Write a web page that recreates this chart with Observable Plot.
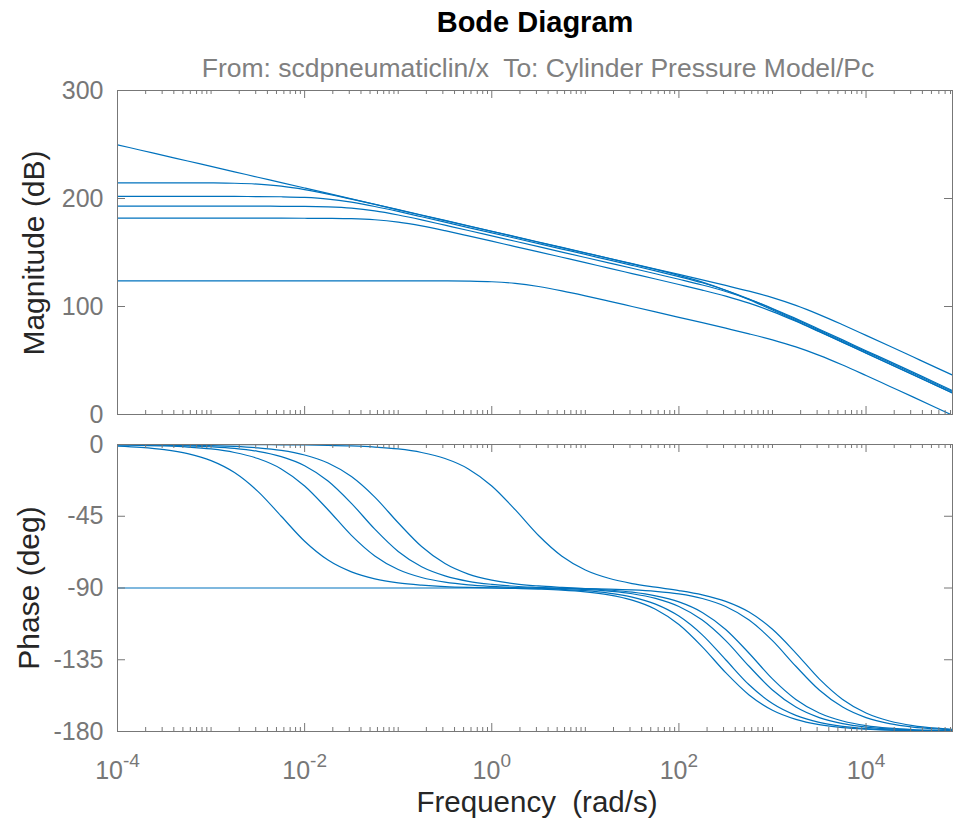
<!DOCTYPE html>
<html>
<head>
<meta charset="utf-8">
<script src="https://cdn.jsdelivr.net/npm/d3@7"></script>
<script src="https://cdn.jsdelivr.net/npm/@observablehq/plot@0.6"></script>
<style>
  body { margin: 0; background: #fff; }
  #chart { position: relative; width: 953px; height: 822px; font-family: "Liberation Sans", Arial, Helvetica, sans-serif; }
  .lbl { position: absolute; white-space: pre; line-height: 1; transform: translate(-50%, -50%); }
  .rot { transform: translate(-50%, -50%) rotate(-90deg); }
  #chart svg { position: absolute; left: 0; }
</style>
</head>
<body>
<div id="chart"></div>
<script>
// ---- data ----
// frequency grid, as log10(rad/s)
const freqExp = [-4,-3.75,-3.5,-3.25,-3,-2.75,-2.5,-2.25,-2,-1.75,-1.5,-1.25,-1,-0.75,-0.5,-0.25,0,0.25,0.5,0.75,1,1.25,1.5,1.75,2,2.25,2.5,2.75,3,3.25,3.5,3.75,4,4.25,4.5,4.75,4.924];

// magnitude (dB), one array per response
const magA = [249.7,244.7,239.7,234.7,229.7,224.7,219.7,214.7,209.7,204.7,199.7,194.7,189.7,184.7,179.7,174.7,169.7,164.7,159.7,154.7,149.7,144.7,139.7,134.7,129.7,124.6,119.5,114.2,108.2,101.0,92.5,83.1,73.3,63.4,53.4,43.4,36.5];
const magB = [214.5,214.5,214.5,214.5,214.4,214.1,213.3,211.5,208.3,204.1,199.4,194.5,189.5,184.5,179.5,174.5,169.5,164.5,159.5,154.5,149.5,144.5,139.4,134.3,128.8,122.6,115.1,106.3,96.8,86.9,77.0,67.0,57.0,47.0,37.0,27.0,20.0];
const magC = [201.9,201.9,201.9,201.9,201.9,201.9,201.8,201.6,201.0,199.5,196.6,192.6,188.0,183.1,178.1,173.1,168.2,163.2,158.2,153.2,148.2,143.1,138.1,133.0,127.7,122.0,115.1,107.0,97.7,88.0,78.1,68.1,58.2,48.2,38.2,28.2,21.2];
const magD = [192.9,192.9,192.9,192.9,192.9,192.9,192.9,192.8,192.7,192.2,191.0,188.5,184.7,180.2,175.3,170.4,165.4,160.4,155.4,150.4,145.4,140.4,135.4,130.3,125.2,119.9,113.9,106.7,98.2,88.8,79.0,69.1,59.1,49.2,39.2,29.2,22.2];
const magE = [181.8,181.8,181.8,181.8,181.8,181.8,181.8,181.8,181.7,181.6,181.3,180.3,178.1,174.6,170.2,165.4,160.5,155.5,150.6,145.6,140.6,135.5,130.5,125.5,120.4,115.2,109.6,103.1,95.3,86.3,76.6,66.7,56.8,46.8,36.8,26.8,19.8];
const magF = [123.8,123.8,123.8,123.8,123.8,123.8,123.8,123.8,123.8,123.8,123.8,123.8,123.8,123.8,123.7,123.5,122.9,121.4,118.5,114.5,109.9,105.0,100.0,95.0,90.0,85.0,79.9,74.7,69.1,62.6,54.8,45.8,36.1,26.2,16.3,6.3,-0.7];

// phase (deg), one array per response
const phaseA = [-90,-90,-90,-90,-90,-90,-90,-90,-90,-90,-90,-90,-90,-90,-90,-90,-90,-90.1,-90.1,-90.2,-90.4,-90.7,-91.2,-92.1,-93.7,-96.6,-101.6,-110.1,-123.0,-139.1,-154.0,-164.7,-171.3,-175.1,-177.2,-178.4,-179.0];
const phaseB = [-1.0,-1.8,-3.2,-5.7,-10.1,-17.6,-29.4,-45.0,-60.7,-72.5,-79.9,-84.3,-86.8,-88.2,-89.1,-89.6,-89.9,-90.3,-90.7,-91.3,-92.4,-94.3,-97.6,-103.3,-112.9,-126.9,-143.1,-157.1,-166.7,-172.4,-175.7,-177.6,-178.6,-179.2,-179.6,-179.8,-179.8];
const phaseC = [-0.3,-0.5,-0.9,-1.6,-2.8,-5.0,-8.8,-15.3,-26.0,-40.9,-57.0,-69.9,-78.4,-83.4,-86.3,-88.0,-89.0,-89.7,-90.2,-90.8,-91.7,-93.2,-95.7,-100.1,-107.6,-119.4,-135.0,-150.7,-162.5,-169.9,-174.3,-176.8,-178.2,-179.0,-179.4,-179.7,-179.8];
const phaseD = [-0.1,-0.2,-0.4,-0.8,-1.4,-2.4,-4.3,-7.6,-13.3,-22.9,-36.9,-53.1,-67.1,-76.7,-82.4,-85.8,-87.7,-88.9,-89.6,-90.2,-90.9,-92.0,-93.6,-96.5,-101.6,-110.1,-123.0,-139.1,-154.0,-164.7,-171.3,-175.1,-177.2,-178.4,-179.1,-179.5,-179.7];
const phaseE = [-0.1,-0.1,-0.2,-0.4,-0.7,-1.2,-2.1,-3.7,-6.6,-11.6,-20.1,-33.0,-49.1,-64.0,-74.7,-81.3,-85.1,-87.4,-88.7,-89.6,-90.4,-91.3,-92.6,-94.9,-98.7,-105.3,-116.0,-130.9,-147.0,-159.9,-168.4,-173.4,-176.3,-177.9,-178.8,-179.3,-179.6];
const phaseF = [0,0,0,0,0,-0.1,-0.1,-0.2,-0.3,-0.5,-0.9,-1.6,-2.8,-5.0,-8.8,-15.3,-26.0,-40.9,-57.1,-70.1,-78.7,-83.9,-87.2,-89.5,-91.6,-94.3,-98.4,-105.1,-115.9,-130.8,-147.0,-159.9,-168.4,-173.4,-176.3,-177.9,-178.6];

const seriesNames = ["A", "B", "C", "D", "E", "F"];

// axis ticks
const magTicks = [0, 100, 200, 300];
const phaseTicks = [0, -45, -90, -135, -180];
const majorX = [1e-4, 1e-2, 1e0, 1e2, 1e4];

// ---- texts ----
const titleText = "Bode Diagram";
const subtitleText = "From: scdpneumaticlin/x  To: Cylinder Pressure Model/Pc";
const magLabel = "Magnitude (dB)";
const phaseLabel = "Phase (deg)";
const xLabel = "Frequency  (rad/s)";

// ---- build tables ----
const toRows = (arrays) => arrays.flatMap((vals, i) =>
  vals.map((v, j) => ({freq: 10 ** freqExp[j], value: v, series: seriesNames[i]})));
const magRows = toRows([magA, magB, magC, magD, magE, magF]);
const phaseRows = toRows([phaseA, phaseB, phaseC, phaseD, phaseE, phaseF]);

const xDomain = [10 ** freqExp[0], 10 ** freqExp[freqExp.length - 1]];
const minorX = [];
for (let k = -4; k <= 4; k++) {
  for (let m = 1; m <= 9; m++) {
    const v = m * 10 ** k;
    if (m === 1 && k % 2 === 0) continue;
    if (v <= xDomain[1]) minorX.push(v);
  }
}

// ---- styling ----
const FONT = '"Liberation Sans", Arial, Helvetica, sans-serif';
const BLUE = "#0072bd";
const GREY = "#777777";
const W = 953, ML = 117, MR = 1;
const PW = W - ML - MR;
const MAJ = 8, MIN = 4;

function edgeTicks(plotH, yTicks) {
  return [
    Plot.tickX(majorX, {x: d => d, stroke: GREY, insetTop: plotH - MAJ}),
    Plot.tickX(majorX, {x: d => d, stroke: GREY, insetBottom: plotH - MAJ}),
    Plot.tickX(minorX, {x: d => d, stroke: GREY, insetTop: plotH - MIN}),
    Plot.tickX(minorX, {x: d => d, stroke: GREY, insetBottom: plotH - MIN}),
    Plot.tickY(yTicks, {y: d => d, stroke: GREY, insetRight: PW - MAJ}),
    Plot.tickY(yTicks, {y: d => d, stroke: GREY, insetLeft: PW - MAJ})
  ];
}

// top panel: magnitude
const topTop = 80, topH = 344, topMT = 10, topMB = 10;
const topPH = topH - topMT - topMB;
const magPlot = Plot.plot({
  width: W, height: topH, marginTop: topMT, marginBottom: topMB, marginLeft: ML, marginRight: MR,
  style: {fontFamily: FONT, fontSize: "25px", background: "transparent", overflow: "visible"},
  x: {type: "log", domain: xDomain, axis: null},
  y: {domain: [0, 300]},
  marks: [
    Plot.line(magRows, {x: "freq", y: "value", z: "series", stroke: BLUE, strokeWidth: 1.2, curve: "monotone-x", clip: true}),
    Plot.frame({stroke: GREY}),
    ...edgeTicks(topPH, magTicks),
    Plot.axisY(magTicks, {tickSize: 0, tickPadding: 14, tickFormat: d => String(d), color: GREY, label: null})
  ]
});

// bottom panel: phase
const botTop = 434, botH = 360, botMT = 10, botMB = 63;
const botPH = botH - botMT - botMB;
const phasePlot = Plot.plot({
  width: W, height: botH, marginTop: botMT, marginBottom: botMB, marginLeft: ML, marginRight: MR,
  style: {fontFamily: FONT, fontSize: "25px", background: "transparent", overflow: "visible"},
  x: {type: "log", domain: xDomain},
  y: {domain: [-180, 0]},
  marks: [
    Plot.line(phaseRows, {x: "freq", y: "value", z: "series", stroke: BLUE, strokeWidth: 1.2, curve: "monotone-x", clip: true}),
    Plot.frame({stroke: GREY}),
    ...edgeTicks(botPH, phaseTicks),
    Plot.axisY(phaseTicks, {tickSize: 0, tickPadding: 14, tickFormat: d => String(d), color: GREY, label: null}),
    Plot.axisX(majorX, {tickSize: 0, tickPadding: 30, tickFormat: d => String(Math.round(Math.log10(d))), color: GREY, label: null})
  ]
});

// turn exponent labels into 10^n with a raised exponent
phasePlot.querySelectorAll('g[aria-label="x-axis tick label"] text').forEach(t => {
  const e = t.textContent;
  t.textContent = "";
  const base = document.createElementNS("http://www.w3.org/2000/svg", "tspan");
  base.textContent = "10";
  const sup = document.createElementNS("http://www.w3.org/2000/svg", "tspan");
  sup.textContent = e;
  sup.setAttribute("dy", "-12");
  sup.setAttribute("font-size", "19px");
  t.appendChild(base);
  t.appendChild(sup);
});

const chart = document.getElementById("chart");
magPlot.style.top = topTop + "px";
phasePlot.style.top = botTop + "px";
chart.appendChild(magPlot);
chart.appendChild(phasePlot);

function addLabel(text, x, y, css, cls) {
  const d = document.createElement("div");
  d.className = "lbl" + (cls ? " " + cls : "");
  d.textContent = text;
  d.style.left = x + "px";
  d.style.top = y + "px";
  Object.assign(d.style, css);
  chart.appendChild(d);
}
addLabel(titleText, 535, 22, {fontSize: "29px", fontWeight: "bold", color: "#000"});
addLabel(subtitleText, 538, 68, {fontSize: "26.5px", color: "#808080"});
addLabel(magLabel, 34, 253, {fontSize: "30px", color: "#262626"}, "rot");
addLabel(phaseLabel, 29, 588, {fontSize: "30px", color: "#262626"}, "rot");
addLabel(xLabel, 537, 802, {fontSize: "29.5px", color: "#262626"});
</script>
</body>
</html>
